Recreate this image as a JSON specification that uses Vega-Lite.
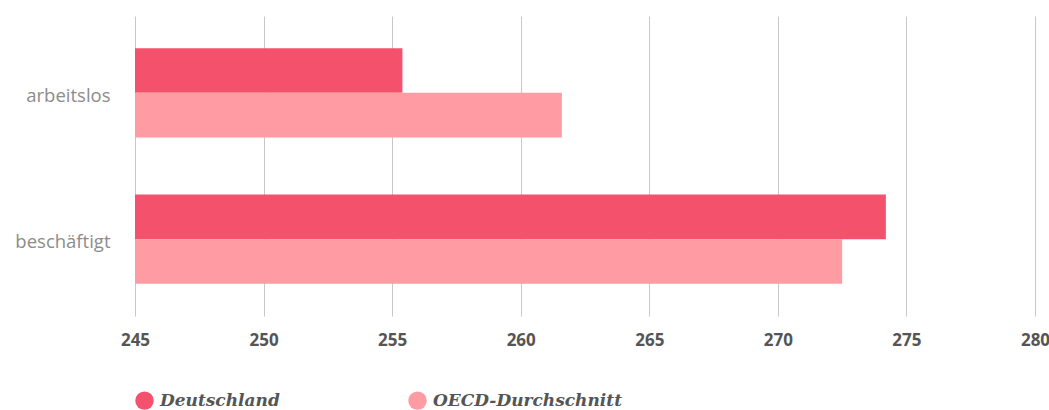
{
  "$schema": "https://vega.github.io/schema/vega-lite/v6.json",
  "width": 900,
  "height": 300,
  "autosize": {"type": "none"},
  "padding": {"left": 135, "top": 16, "right": 14, "bottom": 94},
  "background": "white",
  "data": {"values": [
    {"status": "arbeitslos", "serie": "Deutschland", "wert": 255.4},
    {"status": "arbeitslos", "serie": "OECD-Durchschnitt", "wert": 261.6},
    {"status": "beschäftigt", "serie": "Deutschland", "wert": 274.2},
    {"status": "beschäftigt", "serie": "OECD-Durchschnitt", "wert": 272.5}
  ]},
  "mark": {"type": "bar", "clip": true},
  "encoding": {
    "y": {
      "field": "status", "type": "nominal", "sort": ["arbeitslos", "beschäftigt"],
      "scale": {"paddingInner": 0.39, "paddingOuter": 0.22},
      "axis": {"title": null, "domain": false, "ticks": false, "labelPadding": 25,
        "labelFont": "Open Sans", "labelFontSize": 18.5, "labelColor": "#8c8c8c", "labelFontWeight": "normal", "labelOffset": 3}
    },
    "yOffset": {"field": "serie", "type": "nominal", "sort": ["Deutschland", "OECD-Durchschnitt"]},
    "x": {
      "field": "wert", "type": "quantitative",
      "scale": {"domain": [245, 280], "zero": false, "nice": false},
      "axis": {"title": null, "domain": false, "ticks": false, "values": [245, 250, 255, 260, 265, 270, 275, 280],
        "grid": true, "gridColor": "#c8c8c8", "gridWidth": 1, "labelPadding": 16, "labelFlush": false, "labelAlign": "center",
        "labelFont": "Open Sans", "labelFontSize": 17, "labelFontWeight": "bold", "labelColor": "#555555"}
    },
    "x2": {"datum": 245},
    "color": {
      "field": "serie", "type": "nominal",
      "scale": {"domain": ["Deutschland", "OECD-Durchschnitt"], "range": ["#F4526C", "#FF9BA3"]},
      "legend": {"title": null, "orient": "none", "legendX": 0, "legendY": 375, "direction": "horizontal",
        "symbolType": "circle", "symbolSize": 340, "symbolStrokeWidth": 0, "symbolOpacity": 1,
        "labelFont": "DejaVu Serif", "labelFontStyle": "italic", "labelFontWeight": "bold",
        "labelFontSize": 17, "labelColor": "#555555", "labelOffset": 6, "columnPadding": 128, "labelLimit": 300}
    }
  },
  "config": {"view": {"stroke": null}}
}
